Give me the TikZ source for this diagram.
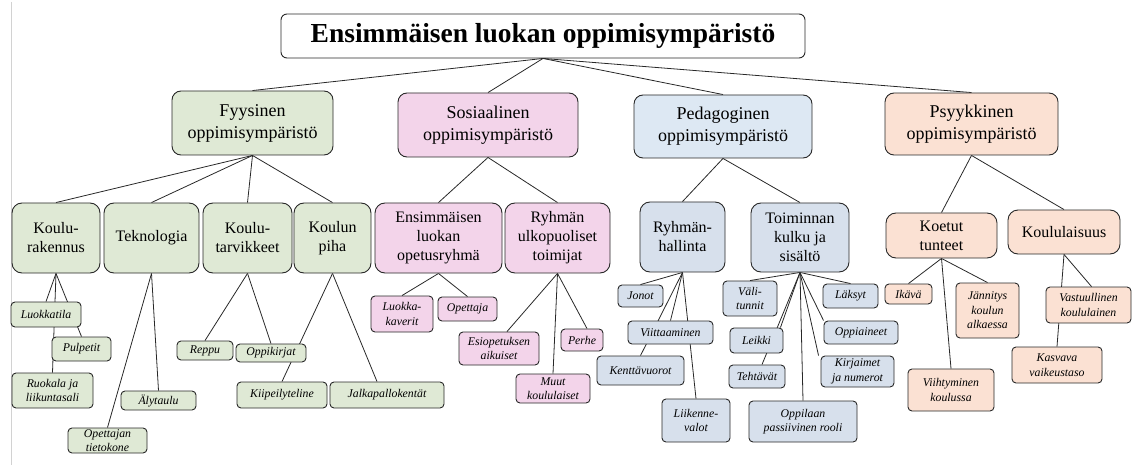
\documentclass[tikz,border=0pt]{standalone}
\usepackage{fontspec}
\setmainfont{Liberation Serif}
\usetikzlibrary{calc}
\pgfdeclarelayer{background}
\pgfsetlayers{background,main}

\definecolor{linec}{RGB}{40,40,40}
\definecolor{greenf}{RGB}{223,233,213}
\definecolor{pinkf}{RGB}{243,212,234}
\definecolor{bluetop}{RGB}{221,232,243}
\definecolor{bluef}{RGB}{215,224,236}
\definecolor{peachf}{RGB}{251,225,211}

\tikzset{
  box/.style={draw=linec, line width=0.9pt, align=center, inner sep=1pt},
  titlebox/.style={box, fill=white, rounded corners=6pt,
    font=\fontsize{27.5}{29}\selectfont\bfseries},
  topbox/.style={box, rounded corners=9pt, font=\fontsize{18}{22}\selectfont},
  midbox/.style={box, rounded corners=10pt, font=\fontsize{16}{19}\selectfont},
  leafbox/.style={box, rounded corners=4pt, font=\fontsize{11.8}{14.5}\selectfont\itshape},
  link/.style={draw=linec, line width=0.8pt},
  sz/.style 2 args={minimum width=#1, minimum height=#2}
}

\begin{document}
\begin{tikzpicture}[x=1pt, y=-1pt]
\path[use as bounding box] (0,0) rectangle (1132,465);

% page edge line on the left
\draw[gray!35, line width=0.8pt] (11,2) -- (11,465);

% root
\node[titlebox, sz={524}{44}] (root) at (543,36) {Ensimmäisen luokan oppimisympäristö};

% main areas
\node[topbox, fill=greenf,  sz={161}{64}] (fyy) at (252.5,123) {Fyysinen\\oppimisympäristö};
\node[topbox, fill=pinkf,   sz={180}{64}] (sos) at (488,125)   {Sosiaalinen\\oppimisympäristö};
\node[topbox, fill=bluetop, sz={178}{63}] (ped) at (723,126.5) {Pedagoginen\\oppimisympäristö};
\node[topbox, fill=peachf,  sz={173}{62}] (psy) at (971.5,124) {Psyykkinen\\oppimisympäristö};

% second level
\node[midbox, fill=greenf, sz={88}{70}]  (krak) at (56,238)    {Koulu-\\rakennus};
\node[midbox, fill=greenf, sz={95}{70}]  (tek)  at (151.5,238) {Teknologia};
\node[midbox, fill=greenf, sz={89}{70}]  (ktar) at (247.5,238) {Koulu-\\tarvikkeet};
\node[midbox, fill=greenf, sz={77}{70}]  (piha) at (332.5,238) {Koulun\\piha};
\node[midbox, fill=pinkf,  sz={127}{70}] (eop)  at (438.5,238) {Ensimmäisen\\luokan\\opetusryhmä};
\node[midbox, fill=pinkf,  sz={105}{70}] (ryu)  at (557.5,238) {Ryhmän\\ulkopuoliset\\toimijat};
\node[midbox, fill=bluef,  sz={85}{70}]  (rh)   at (682.5,237) {Ryhmän-\\hallinta};
\node[midbox, fill=bluef,  sz={98}{69}]  (tk)   at (800,237.5) {Toiminnan\\kulku ja\\sisältö};
\node[midbox, fill=peachf, sz={111}{45}] (koe)  at (941.5,235.5) {Koetut\\tunteet};
\node[midbox, fill=peachf, sz={112}{44}] (kla)  at (1064,232)  {Koululaisuus};

% leaves: physical
\node[leafbox, fill=greenf, sz={70}{25}]  (luokka) at (46,314.5)   {Luokkatila};
\node[leafbox, fill=greenf, sz={59}{24}]  (pulp)   at (81.5,349)   {Pulpetit};
\node[leafbox, fill=greenf, sz={81}{35}]  (ruok)   at (52.5,390.5) {Ruokala ja\\liikuntasali};
\node[leafbox, fill=greenf, sz={75}{19}]  (aly)    at (158.5,400.5){Älytaulu};
\node[leafbox, fill=greenf, sz={79}{25}, font=\fontsize{11.8}{13.5}\selectfont\itshape]
      (otk)    at (107.5,440.5){Opettajan\\tietokone};
\node[leafbox, fill=greenf, sz={56}{19}]  (reppu)  at (205,350.5)  {Reppu};
\node[leafbox, fill=greenf, sz={70}{18}]  (okirj)  at (271,353)    {Oppikirjat};
\node[leafbox, fill=greenf, sz={90}{26}]  (kiip)   at (282,395)    {Kiipeilyteline};
\node[leafbox, fill=greenf, sz={114}{26}] (jalka)  at (387,395)    {Jalkapallokentät};

% leaves: social
\node[leafbox, fill=pinkf, sz={62}{36}] (kaver) at (402,314)   {Luokka-\\kaverit};
\node[leafbox, fill=pinkf, sz={59}{24}] (opet)  at (467.5,309) {Opettaja};
\node[leafbox, fill=pinkf, sz={80}{33}] (esi)   at (499,348.5) {Esiopetuksen\\aikuiset};
\node[leafbox, fill=pinkf, sz={42}{22}] (perhe) at (582,340)   {Perhe};
\node[leafbox, fill=pinkf, sz={74}{29}] (muut)  at (553,388.5) {Muut\\koululaiset};

% leaves: pedagogical
\node[leafbox, fill=bluef, sz={45}{22}]  (jonot) at (640.5,296)   {Jonot};
\node[leafbox, fill=bluef, sz={85}{23}]  (viitt) at (670.5,332.5) {Viittaaminen};
\node[leafbox, fill=bluef, sz={87}{29}]  (kentt) at (640.5,370.5) {Kenttävuorot};
\node[leafbox, fill=bluef, sz={68}{43}]  (liik)  at (696,420.5)   {Liikenne-\\valot};
\node[leafbox, fill=bluef, sz={54}{35}]  (vali)  at (750,298.5)   {Väli-\\tunnit};
\node[leafbox, fill=bluef, sz={55}{24}]  (laks)  at (850.5,296)   {Läksyt};
\node[leafbox, fill=bluef, sz={53}{25}]  (leik)  at (756.5,340.5) {Leikki};
\node[leafbox, fill=bluef, sz={74}{23}]  (oppa)  at (861,332.5)   {Oppiaineet};
\node[leafbox, fill=bluef, sz={56}{23}]  (teht)  at (757,376.5)   {Tehtävät};
\node[leafbox, fill=bluef, sz={73}{31}]  (kirj)  at (857.5,371.5) {Kirjaimet\\ja numerot};
\node[leafbox, fill=bluef, sz={108}{41}] (pass)  at (803,421.5)   {Oppilaan\\passiivinen rooli};

% leaves: psychological
\node[leafbox, fill=peachf, sz={47}{20}] (ikava) at (908.5,294)  {Ikävä};
\node[leafbox, fill=peachf, sz={63}{55}] (jann)  at (987.5,310.5){Jännitys\\koulun\\alkaessa};
\node[leafbox, fill=peachf, sz={86}{42}] (viiht) at (951,390)    {Viihtyminen\\koulussa};
\node[leafbox, fill=peachf, sz={85}{36}] (vast)  at (1088.5,305) {Vastuullinen\\koululainen};
\node[leafbox, fill=peachf, sz={90}{36}] (kasv)  at (1057,365)   {Kasvava\\vaikeustaso};

% connectors, kept behind the boxes
\begin{pgfonlayer}{background}
\foreach \c in {fyy,sos,ped,psy} \draw[link] (root.south) -- (\c.north);
\foreach \c in {krak,tek,ktar,piha} \draw[link] (fyy.south) -- (\c.north);
\foreach \c in {eop,ryu} \draw[link] (sos.south) -- (\c.north);
\foreach \c in {rh,tk} \draw[link] (ped.south) -- (\c.north);
\foreach \c in {koe,kla} \draw[link] (psy.south) -- (\c.north);

\foreach \c in {luokka,pulp,ruok} \draw[link] (krak.south) -- (\c.north);
\foreach \c in {otk,aly} \draw[link] (tek.south) -- (\c.north);
\foreach \c in {reppu,okirj} \draw[link] (ktar.south) -- (\c.north);
\draw[link] (piha.south) -- (kiip.north);
\draw[link] (piha.south) -- ($(jalka.north)+(-10,0)$);

\foreach \c in {kaver,opet} \draw[link] (eop.south) -- (\c.north);
\draw[link] (ryu.south) -- ($(esi.north)+(8,0)$);
\draw[link] (ryu.south) -- (muut.north);
\draw[link] (ryu.south) -- ($(perhe.north)+(5,0)$);

\foreach \c in {jonot,viitt,kentt,liik} \draw[link] (rh.south) -- (\c.north);
\draw[link] (tk.south) -- (vali.north);
\draw[link] (tk.south) -- (laks.north);
\draw[link] (tk.south) -- ($(leik.north east)+(-3,0)$);
\draw[link] (tk.south) -- ($(teht.north)+(5,0)$);
\draw[link] (tk.south) -- (pass.north);
\draw[link] (tk.south) -- ($(kirj.north west)+(-2,0)$);
\draw[link] (tk.south) -- (oppa.north west);

\foreach \c in {ikava,jann,viiht} \draw[link] (koe.south) -- (\c.north);
\draw[link] (kla.south) -- ($(vast.north)+(3,0)$);
\draw[link] (kla.south) -- (kasv.north);
\end{pgfonlayer}
\end{tikzpicture}
\end{document}
